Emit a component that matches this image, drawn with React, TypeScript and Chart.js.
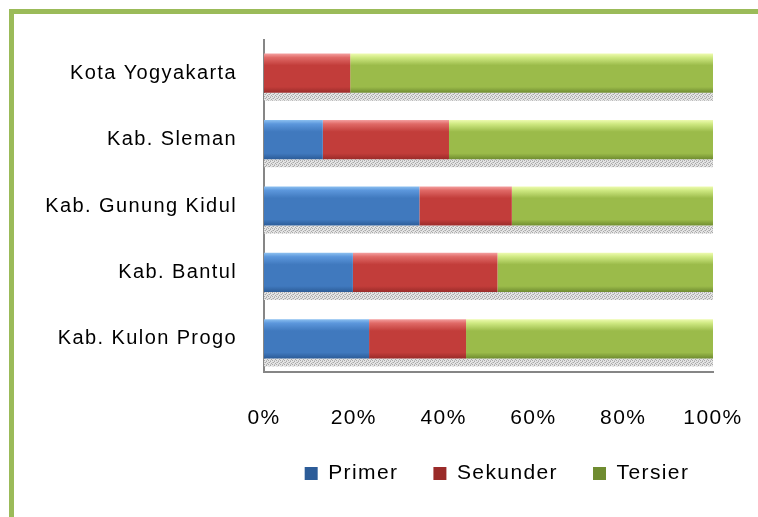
import React, { useEffect, useRef } from "react";
import { Chart, registerables } from "chart.js";

Chart.register(...registerables);

const categories = [
  "Kota Yogyakarta",
  "Kab. Sleman",
  "Kab. Gunung Kidul",
  "Kab. Bantul",
  "Kab. Kulon Progo",
];
const primer = [0, 13.1, 34.6, 19.8, 23.4];
const sekunder = [19.2, 28.1, 20.6, 32.2, 21.6];
const tersier = [80.8, 58.8, 44.8, 48.0, 55.0];
const xTicks = [0, 20, 40, 60, 80, 100];

const BAR_PCT = 0.59;
const FONT = "'Liberation Sans', Arial, sans-serif";
const SPACING = "1.4px";

function barFill(top: string, light: string, base: string, dark: string) {
  return (ctx: any) => {
    if (ctx.type !== "data") return base;
    const chart = ctx.chart;
    const y = chart.scales && chart.scales.y;
    if (!y || !isFinite(y.top) || y.bottom - y.top <= 0) return base;
    const c = y.getPixelForValue(ctx.dataIndex);
    const band = ((y.bottom - y.top) / categories.length) * BAR_PCT;
    const g = chart.ctx.createLinearGradient(0, c - band / 2, 0, c + band / 2);
    g.addColorStop(0, top);
    g.addColorStop(0.1, light);
    g.addColorStop(0.3, base);
    g.addColorStop(0.85, base);
    g.addColorStop(1, dark);
    return g;
  };
}

function makeShadowPattern(ctx: CanvasRenderingContext2D) {
  const c = document.createElement("canvas");
  c.width = 4;
  c.height = 4;
  const p = c.getContext("2d")!;
  p.fillStyle = "#e4e4e4";
  p.fillRect(0, 0, 4, 4);
  p.fillStyle = "#a8a8a8";
  p.fillRect(0, 0, 1, 1);
  p.fillRect(2, 1, 1, 1);
  p.fillRect(1, 2, 1, 1);
  p.fillRect(3, 3, 1, 1);
  p.fillStyle = "#c4c4c4";
  p.fillRect(2, 0, 1, 1);
  p.fillRect(0, 2, 1, 1);
  return ctx.createPattern(c, "repeat");
}

const spacingPlugin = {
  id: "letterSpacing",
  beforeUpdate(chart: any) {
    chart.ctx.letterSpacing = SPACING;
  },
  beforeLayout(chart: any) {
    chart.ctx.letterSpacing = SPACING;
  },
  afterLayout(chart: any) {
    const lg = chart.legend;
    if (lg && chart.chartArea) {
      const dx = (chart.chartArea.left + chart.chartArea.right) / 2 - chart.width / 2 + 31;
      lg.left += dx;
      lg.right += dx;
    }
  },
  beforeDraw(chart: any) {
    chart.ctx.letterSpacing = SPACING;
  },
};

const shadowPlugin = {
  id: "barShadow",
  beforeDatasetsDraw(chart: any) {
    const ctx = chart.ctx as CanvasRenderingContext2D;
    const n = chart.data.datasets.length;
    const first = chart.getDatasetMeta(0).data;
    const last = chart.getDatasetMeta(n - 1).data;
    const pat = makeShadowPattern(ctx);
    ctx.save();
    for (let i = 0; i < first.length; i++) {
      const a = first[i] as any;
      const b = last[i] as any;
      const left = a.base;
      const right = b.x;
      const bottom = a.y + a.height / 2;
      ctx.fillStyle = pat || "#cccccc";
      ctx.fillRect(left, bottom, right - left, 8);
    }
    ctx.restore();
  },
};

export default function App() {
  const ref = useRef<HTMLCanvasElement>(null);
  useEffect(() => {
    if (!ref.current) return;
    const chart = new Chart(ref.current, {
      type: "bar",
      data: {
        labels: categories,
        datasets: [
          {
            label: "Primer",
            data: primer,
            backgroundColor: barFill("#8cc0f0", "#5c97dc", "#4079be", "#2c5c98"),
            borderWidth: 0,
            barPercentage: BAR_PCT,
            categoryPercentage: 1,
          },
          {
            label: "Sekunder",
            data: sekunder,
            backgroundColor: barFill("#f4a0a0", "#e06a67", "#c23d3a", "#9a2b29"),
            borderWidth: 0,
            barPercentage: BAR_PCT,
            categoryPercentage: 1,
          },
          {
            label: "Tersier",
            data: tersier,
            backgroundColor: barFill("#eefbb0", "#cfe982", "#9bbb4a", "#6f8c30"),
            borderWidth: 0,
            barPercentage: BAR_PCT,
            categoryPercentage: 1,
          },
        ],
      },
      options: {
        indexAxis: "y",
        animation: false,
        responsive: false,
        devicePixelRatio: 1,
        layout: { padding: { left: 0, top: 40, right: 45, bottom: 23 } },
        scales: {
          x: {
            stacked: true,
            min: 0,
            max: 100,
            afterBuildTicks: (scale: any) => {
              scale.ticks = xTicks.map((v) => ({ value: v }));
            },
            afterFit: (scale: any) => {
              scale.height = 56;
            },
            grid: { display: false, drawTicks: true, tickLength: 31 },
            border: { display: true, color: "#868686", width: 2 },
            ticks: {
              padding: 3,
              color: "#000",
              font: { family: FONT, size: 21 },
              callback: (v: any) => v + "%",
              maxRotation: 0,
            },
          },
          y: {
            stacked: true,
            afterFit: (scale: any) => {
              scale.width = 264;
            },
            grid: { display: false, drawTicks: true, tickLength: 24 },
            border: { display: true, color: "#868686", width: 2 },
            ticks: {
              padding: 3,
              color: "#000",
              font: { family: FONT, size: 20 },
            },
          },
        },
        plugins: {
          legend: {
            position: "bottom",
            labels: {
              boxWidth: 13,
              boxHeight: 13,
              padding: 35,
              color: "#000",
              font: { family: FONT, size: 21 },
            },
          },
          tooltip: { enabled: false },
        },
      },
      plugins: [spacingPlugin, shadowPlugin],
    } as any);
    return () => chart.destroy();
  }, []);

  return (
    <div>
      <div
        style={{
          position: "fixed",
          left: 9,
          top: 9,
          width: 900,
          height: 700,
          borderTop: "5px solid #9bbb59",
          borderLeft: "5px solid #9bbb59",
          boxSizing: "border-box",
        }}
      />
      <canvas
        ref={ref}
        width={758}
        height={517}
        style={{ position: "fixed", left: 0, top: 0, width: 758, height: 517 }}
      />
    </div>
  );
}
